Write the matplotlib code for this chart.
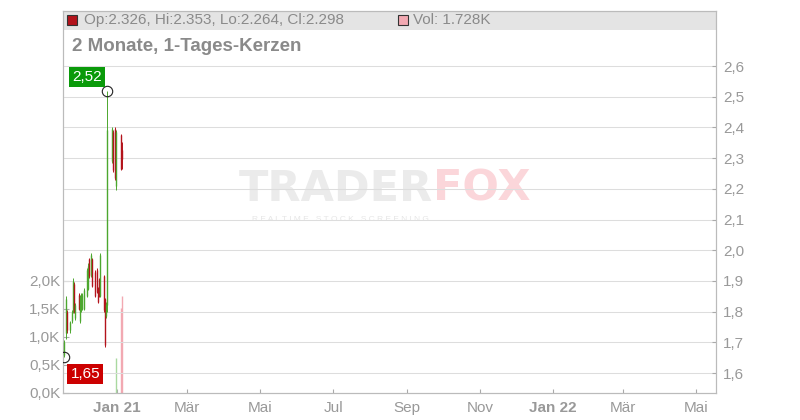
import datetime
import numpy as np
import pandas as pd
import matplotlib
matplotlib.use('agg')
from matplotlib import pyplot as plt
import matplotlib.dates as mdates
from matplotlib.patches import Rectangle

plt.rcParams['font.family'] = ['Liberation Sans', 'DejaVu Sans']

# ====================================
# data
# ====================================
days = pd.bdate_range('2020-11-18', '2021-01-05')
days = days[~days.isin(pd.to_datetime(['2020-12-25', '2021-01-01']))]

opens = [1.66, 1.73, 1.80, 1.74, 1.77, 1.80, 1.89, 1.78, 1.855, 1.77, 1.805,
         1.81, 1.81, 1.85, 1.875, 1.97, 1.92, 1.97, 1.93, 1.935, 1.875, 1.905,
         1.85, 1.915, 1.84, 1.785, 1.82, 2.29, 2.385, 2.395, 2.21, 2.375, 2.326]
highs = [1.707, 1.85, 1.805, 1.77, 1.805, 1.91, 1.896, 1.828, 1.86, 1.854, 1.86,
         1.86, 1.877, 1.942, 1.958, 1.975, 1.99, 1.975, 1.935, 1.942, 1.88, 1.91,
         1.99, 1.92, 1.844, 1.83, 2.52, 2.40, 2.39, 2.40, 2.39, 2.38, 2.353]
lows = [1.652, 1.71, 1.73, 1.73, 1.763, 1.795, 1.795, 1.773, 1.805, 1.763, 1.80,
        1.805, 1.805, 1.848, 1.87, 1.91, 1.913, 1.88, 1.848, 1.86, 1.828, 1.848,
        1.848, 1.80, 1.685, 1.78, 1.80, 2.284, 2.255, 2.229, 2.196, 2.26, 2.264]
closes = [1.70, 1.84, 1.74, 1.765, 1.80, 1.90, 1.80, 1.82, 1.81, 1.85, 1.855,
          1.855, 1.87, 1.935, 1.95, 1.915, 1.985, 1.885, 1.85, 1.865, 1.83, 1.85,
          1.985, 1.805, 1.69, 1.825, 2.39, 2.395, 2.26, 2.235, 2.385, 2.265, 2.298]
volumes = [0] * 30 + [0.62, 1.52, 1.728]   # in K

month_ticks = ['2021-01-01', '2021-03-01', '2021-05-01', '2021-07-01', '2021-09-01',
               '2021-11-01', '2022-01-01', '2022-03-01', '2022-05-01']
month_labels = ['Jan 21', 'Mär', 'Mai', 'Jul', 'Sep', 'Nov', 'Jan 22', 'Mär', 'Mai']
price_ticks = [1.6, 1.7, 1.8, 1.9, 2.0, 2.1, 2.2, 2.3, 2.4, 2.5, 2.6]
vol_ticks = [0.0, 0.5, 1.0, 1.5, 2.0]

GREEN = '#4ca72e'
RED = '#b3131b'
GRAY_TXT = '#999999'

fig = plt.figure(figsize=(8, 4.2), dpi=100)
ax_vol = fig.add_axes([63 / 800, 27 / 420, 653 / 800, 382 / 420])
ax = ax_vol.twinx()

x = mdates.date2num(days.to_pydatetime())
x0 = mdates.date2num(datetime.datetime(2020, 11, 16, 20))
x1 = mdates.date2num(datetime.datetime(2022, 5, 17, 12))

# ---- volume axis (left) ----
vol_col = [('#a9d9a0' if c >= o else '#f2a9b2') for o, c in zip(opens, closes)]
ax_vol.vlines(x, 0, volumes, colors=vol_col, lw=1.0)
ax_vol.set_ylim(0, 6.82)
ax_vol.set_yticks(vol_ticks)
ax_vol.set_yticklabels([('%.1fK' % v).replace('.', ',') for v in vol_ticks])
ax_vol.tick_params(axis='y', direction='in', length=4, color='#aaaaaa',
                   labelcolor=GRAY_TXT, labelsize=11, pad=2)

# header bar
ax_vol.add_patch(Rectangle((0, 0.950), 1, 0.05, transform=ax_vol.transAxes,
                           facecolor='#e4e4e4', edgecolor='none', zorder=0))

# watermark
ax_vol.text(0.566, 0.535, 'TRADER', transform=ax_vol.transAxes, ha='right', va='center',
            fontsize=31, fontweight='bold', family='DejaVu Sans', color='#ebebeb', zorder=0)
ax_vol.text(0.566, 0.535, 'FOX', transform=ax_vol.transAxes, ha='left', va='center',
            fontsize=31, fontweight='bold', family='DejaVu Sans', color='#fbd6da', zorder=0)
ax_vol.text(0.289, 0.455, 'R E A L T I M E   S T O C K   S C R E E N I N G',
            transform=ax_vol.transAxes, ha='left', va='center', fontsize=6.0,
            color='#e6e6e6', zorder=0)

# ---- price axis (right) ----
ax.set_ylim(1.5349, 2.7792)
ax.set_yticks(price_ticks)
ax.set_yticklabels([('%.1f' % p).replace('.', ',') for p in price_ticks])
ax.tick_params(axis='y', direction='in', length=3, color='#aaaaaa',
               labelcolor=GRAY_TXT, labelsize=11, pad=5)
ax.set_xlim(x0, x1)
ax.set_xticks(mdates.date2num(pd.to_datetime(month_ticks).to_pydatetime()))
ax.set_xticklabels(month_labels)
ax_vol.tick_params(axis='x', direction='in', length=3, color='#aaaaaa',
                   labelcolor=GRAY_TXT, labelsize=11, pad=6)
for lbl in ax_vol.get_xticklabels():
    if lbl.get_text().startswith('Jan'):
        lbl.set_fontweight('bold')

ax.grid(True, color='#dddddd', lw=0.75)
for a in (ax, ax_vol):
    for s in a.spines.values():
        s.set_color('#bbbbbb')
    a.set_facecolor('none')
ax_vol.set_facecolor('white')

# candles
cols = [GREEN if c >= o else RED for o, c in zip(opens, closes)]
ax.vlines(x, lows, highs, colors=cols, lw=0.7, zorder=3)
ax.vlines(x, np.minimum(opens, closes), np.maximum(opens, closes), colors=cols, lw=1.0, zorder=3)

# hi / lo markers
i_hi = int(np.argmax(highs))
i_lo = int(np.argmin(lows))
ax.plot([x[i_hi], x[i_lo]], [highs[i_hi], lows[i_lo]], 'o', mfc='none', mec='#222222',
        mew=0.8, ms=7.5, zorder=4)
ax.annotate(('%.2f' % highs[i_hi]).replace('.', ','), (x[i_hi], highs[i_hi]),
            xytext=(-14.5, 9.5), textcoords='offset points', ha='center', va='center',
            color='white', fontsize=11, zorder=5,
            bbox=dict(boxstyle='square,pad=0.2', fc='#0a9a0a', ec='none'))
ax.annotate(('%.2f' % lows[i_lo]).replace('.', ','), (x[i_lo], lows[i_lo]),
            xytext=(15, -12), textcoords='offset points', ha='center', va='center',
            color='white', fontsize=11, zorder=5,
            bbox=dict(boxstyle='square,pad=0.2', fc='#cc0000', ec='none'))

# header texts
ax.plot([0.0138], [0.976], 's', transform=ax.transAxes, ms=7, mfc='#b3131b',
        mec='#333333', mew=0.8, clip_on=False)
ax.text(0.0322, 0.976, 'Op:%.3f, Hi:%.3f, Lo:%.3f, Cl:%.3f' % (opens[-1], highs[-1], lows[-1], closes[-1]),
        transform=ax.transAxes, ha='left', va='center', fontsize=11, color='#8a8a8a')
ax.plot([0.5207], [0.976], 's', transform=ax.transAxes, ms=7, mfc='#f2a9b2',
        mec='#333333', mew=0.8, clip_on=False)
ax.text(0.536, 0.976, 'Vol: %.3fK' % volumes[-1], transform=ax.transAxes,
        ha='left', va='center', fontsize=11, color='#8a8a8a')
ax.text(0.0138, 0.906, '2 Monate, 1-Tages-Kerzen', transform=ax.transAxes,
        ha='left', va='center', fontsize=13.5, fontweight='bold', color='#8a8a8a')

plt.savefig('out.png', dpi=100)
